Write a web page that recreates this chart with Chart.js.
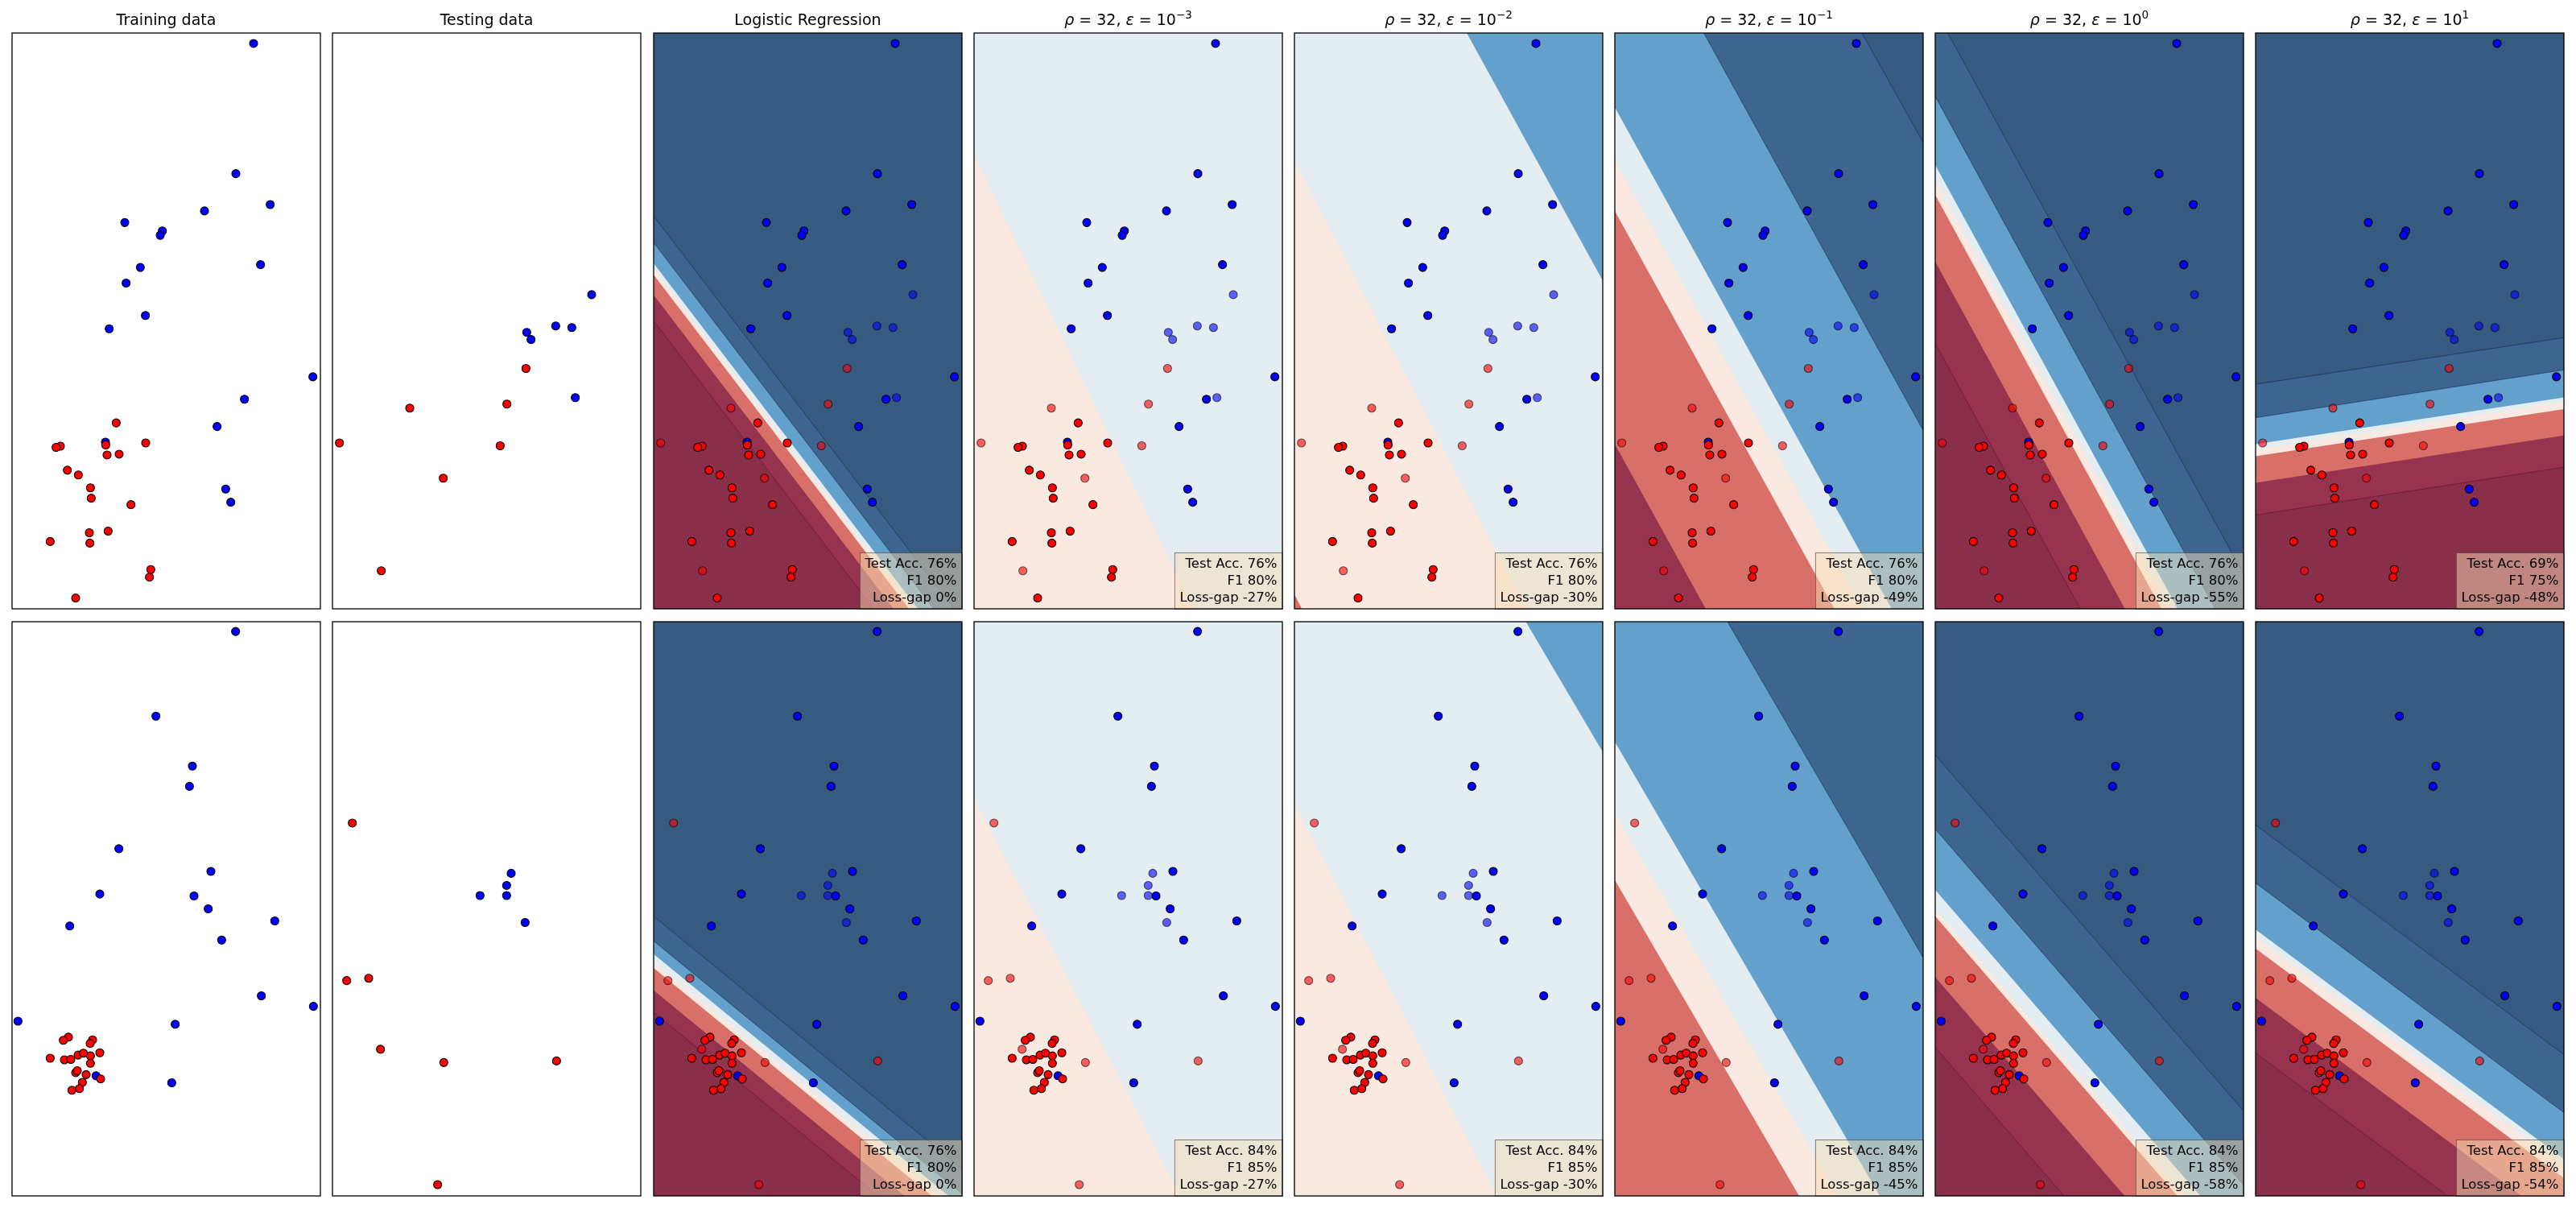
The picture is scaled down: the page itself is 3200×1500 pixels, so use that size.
<!DOCTYPE html>
<html>
<head>
<meta charset="utf-8">
<script src="https://cdn.jsdelivr.net/npm/chart.js@4.4.1/dist/chart.umd.min.js"></script>
<style>
  body { margin: 0; background: #fff; width: 3200px; height: 1500px; position: relative; overflow: hidden; }
  .panel { position: absolute; }
</style>
</head>
<body>
<script>
// column titles, the last five are rho/epsilon settings
const titles = ['Training data', 'Testing data', 'Logistic Regression'];
const epsPowers = ['\u22123', '\u22122', '\u22121', '0', '1'];

// axis limits (same units as the point readings)
const xLim = [46, 1195];
const yLim1 = [83, 1520];
const yLim2 = [65, 1537];

// row 1 points
const train1Red = [[434,1056],[544,1106],[395,1111],[226,1114],[210,1117],[400,1136],[445,1134],[252,1174],[293,1186],[338,1218],[341,1244],[489,1260],[334,1330],[404,1326],[188,1352],[336,1356],[563,1422],[558,1441],[283,1493]];
const train1Blue = [[946,109],[880,434],[1008,511],[763,527],[466,556],[606,577],[598,588],[972,661],[524,668],[471,707],[543,788],[408,821],[1167,941],[912,997],[810,1065],[394,1104],[842,1221],[861,1254]];
const test1Red = [[767,920],[696,1009],[334,1019],[72,1106],[671,1113],[459,1194],[228,1425]];
const test1Blue = [[1012,736],[878,814],[938,818],[770,830],[786,848],[951,993]];

// row 2 points
const train2Red = [[256,1130],[237,1138],[346,1137],[337,1146],[188,1184],[241,1188],[265,1187],[292,1176],[312,1171],[338,1178],[373,1170],[338,1197],[283,1221],[289,1216],[322,1226],[376,1237],[308,1246],[297,1262],[269,1266]];
const train2Blue = [[879,90],[582,307],[718,435],[707,487],[444,647],[787,705],[373,763],[724,768],[777,801],[261,845],[1025,832],[827,881],[975,1024],[1169,1051],[68,1089],[654,1097],[359,1229],[641,1247]];
const test2Red = [[120,581],[99,985],[181,979],[225,1161],[461,1195],[881,1191],[438,1508]];
const test2Blue = [[712,710],[695,741],[596,767],[695,767],[764,836]];

// contour levels, red (low) to blue (high)
const levelColors = ['rgb(138,47,74)', 'rgb(150,52,79)', 'rgb(216,112,105)', 'rgb(250,233,224)',
                     'rgb(227,237,242)', 'rgb(99,160,204)', 'rgb(61,101,144)', 'rgb(55,90,128)'];

// decision boundaries for the six classifier panels of each row:
// lowest level, then each boundary as fraction of height at left / right edge
const base1 = [0, 3, 2, 1, 0, 0];
const left1 = [
  [0.500, 0.455, 0.420, 0.410, 0.400, 0.364, 0.318],
  [0.212],
  [0.975, 0.222, -0.545],
  [0.714, 0.309, 0.221, 0.129, -0.280, -0.765],
  [0.539, 0.397, 0.281, 0.255, 0.229, 0.110, -0.040],
  [0.837, 0.781, 0.735, 0.723, 0.714, 0.668, 0.610]
];
const right1 = [
  [1.200, 1.155, 1.120, 1.110, 1.100, 1.064, 1.018],
  [1.323],
  [2.010, 1.257, 0.430],
  [1.684, 1.279, 1.191, 1.099, 0.690, 0.190],
  [1.519, 1.377, 1.261, 1.235, 1.209, 1.090, 0.940],
  [0.754, 0.699, 0.653, 0.641, 0.633, 0.585, 0.529]
];
const base2 = [0, 3, 3, 2, 0, 0];
const left2 = [
  [0.680, 0.642, 0.603, 0.592, 0.579, 0.556, 0.513],
  [0.308],
  [0.318, -0.683],
  [0.450, 0.334, 0.209, -0.337],
  [0.741, 0.619, 0.513, 0.500, 0.467, 0.361, 0.232],
  [0.751, 0.655, 0.569, 0.549, 0.536, 0.455, 0.354]
];
const right2 = [
  [1.120, 1.082, 1.043, 1.032, 1.019, 0.996, 0.953],
  [1.342],
  [1.357, 0.227],
  [1.370, 1.254, 1.129, 0.585],
  [1.361, 1.239, 1.133, 1.120, 1.087, 0.981, 0.852],
  [1.151, 1.055, 0.969, 0.949, 0.936, 0.855, 0.754]
];

// scores shown in the boxes
const acc1 = [76, 76, 76, 76, 76, 69];
const f1s1 = [80, 80, 80, 80, 80, 75];
const gap1 = [0, -27, -30, -49, -55, -48];
const acc2 = [76, 84, 84, 84, 84, 84];
const f1s2 = [80, 85, 85, 85, 85, 85];
const gap2 = [0, -27, -30, -45, -58, -54];

const rows = [
  {yLim: yLim1, trainRed: train1Red, trainBlue: train1Blue, testRed: test1Red, testBlue: test1Blue,
   base: base1, left: left1, right: right1, acc: acc1, f1: f1s1, gap: gap1, top: 41, h: 715},
  {yLim: yLim2, trainRed: train2Red, trainBlue: train2Blue, testRed: test2Red, testBlue: test2Blue,
   base: base2, left: left2, right: right2, acc: acc2, f1: f1s2, gap: gap2, top: 772, h: 713}
];

const FONT = '"DejaVu Sans", sans-serif';
const PAD = 12, PAD_TOP = 46, W = 383;

function drawTitle(ctx, segs, cx, y) {
  const fonts = {n: '19px ' + FONT, i: 'italic 19px ' + FONT, s: '13.5px ' + FONT};
  let total = 0;
  segs.forEach(s => { ctx.font = fonts[s[1]]; total += ctx.measureText(s[0]).width; });
  let x = cx - total / 2;
  ctx.fillStyle = '#000';
  ctx.textAlign = 'left';
  ctx.textBaseline = 'alphabetic';
  segs.forEach(s => {
    ctx.font = fonts[s[1]];
    ctx.fillText(s[0], x, s[1] === 's' ? y - 8 : y);
    x += ctx.measureText(s[0]).width;
  });
}

Chart.register({
  id: 'panelDeco',
  afterDatasetsDraw(chart, args, opts) {
    const ctx = chart.ctx, a = chart.chartArea;
    ctx.save();
    if (opts.stats) {
      const lines = opts.stats;
      ctx.font = '16.5px ' + FONT;
      const w = Math.max(...lines.map(l => ctx.measureText(l).width));
      const r = a.right, b = a.bottom;
      const bx = r - w - 13, by = b - 70;
      ctx.fillStyle = 'rgba(245,222,179,0.5)';
      ctx.fillRect(bx, by, r - bx, b - by);
      ctx.strokeStyle = 'rgba(0,0,0,0.45)';
      ctx.lineWidth = 1;
      ctx.strokeRect(bx + 0.5, by + 0.5, r - bx, b - by);
      ctx.fillStyle = '#000';
      ctx.textAlign = 'right';
      ctx.textBaseline = 'alphabetic';
      lines.forEach((l, i) => ctx.fillText(l, r - 6.5, b - 51 + i * 21));
    }
    ctx.strokeStyle = '#000';
    ctx.lineWidth = 1.3;
    ctx.strokeRect(a.left, a.top, a.right - a.left, a.bottom - a.top);
    if (opts.title) drawTitle(ctx, opts.title, (a.left + a.right) / 2, a.top - 10);
    ctx.restore();
  }
});

const toXY = pts => pts.map(p => ({x: p[0], y: p[1]}));

function pointSet(pts, fill, edge, order) {
  return {data: toXY(pts), showLine: false, pointRadius: 5, pointBorderWidth: 1.1,
          pointBackgroundColor: fill, pointBorderColor: edge, clip: 0, order: order};
}

function bandSets(row, k) {
  const [x0, x1] = xLim, [y0, y1] = row.yLim;
  const fy = f => y0 + f * (y1 - y0);
  const base = row.base[k];
  const sets = [{
    data: [{x: x0, y: y0}, {x: x1, y: y0}, {x: x1, y: y1}, {x: x0, y: y1}],
    showLine: true, fill: 'shape', backgroundColor: levelColors[base], borderWidth: 0,
    pointRadius: 0, clip: 0, order: 60
  }];
  row.left[k].forEach((fl, j) => {
    const lvl = base + j + 1;
    const seam = lvl >= 6 ? 'rgba(20,45,85,0.7)' : (lvl === 1 ? 'rgba(105,15,45,0.7)' : 'rgba(0,0,0,0)');
    sets.push({
      data: [{x: x0, y: fy(fl)}, {x: x1, y: fy(row.right[k][j])}, {x: x1, y: fy(-6)}, {x: x0, y: fy(-6)}],
      showLine: true, fill: 'shape', backgroundColor: levelColors[lvl],
      borderColor: seam, borderWidth: 0.9, pointRadius: 0, clip: 0, order: 59 - j
    });
  });
  return sets;
}

rows.forEach((row, r) => {
  for (let c = 0; c < 8; c++) {
    const L = Math.round(15.3 + c * 398.1);
    const div = document.createElement('div');
    div.className = 'panel';
    div.style.left = (L - PAD) + 'px';
    div.style.top = (row.top - PAD_TOP) + 'px';
    const canvas = document.createElement('canvas');
    canvas.width = W + 2 * PAD;
    canvas.height = row.h + PAD_TOP + PAD;
    div.appendChild(canvas);
    document.body.appendChild(div);

    let datasets = [], stats = null;
    if (c === 0) {
      datasets = [pointSet(row.trainBlue, '#0000ff', '#000', 2), pointSet(row.trainRed, '#ff0000', '#000', 1)];
    } else if (c === 1) {
      datasets = [pointSet(row.testBlue, '#0000ff', '#000', 2), pointSet(row.testRed, '#ff0000', '#000', 1)];
    } else {
      const k = c - 2;
      datasets = bandSets(row, k).concat([
        pointSet(row.trainBlue, '#0000ff', '#000', 4),
        pointSet(row.trainRed, '#ff0000', '#000', 3),
        pointSet(row.testBlue, 'rgba(0,0,255,0.6)', 'rgba(0,0,0,0.6)', 2),
        pointSet(row.testRed, 'rgba(255,0,0,0.6)', 'rgba(0,0,0,0.6)', 1)
      ]);
      stats = ['Test Acc. ' + row.acc[k] + '%', 'F1 ' + row.f1[k] + '%', 'Loss-gap ' + row.gap[k] + '%'];
    }

    let title = null;
    if (r === 0) {
      title = c < 3 ? [[titles[c], 'n']]
                    : [['\u03c1', 'i'], [' = 32, ', 'n'], ['\u03b5', 'i'], [' = 10', 'n'], [epsPowers[c - 3], 's']];
    }

    new Chart(canvas, {
      type: 'scatter',
      data: {datasets: datasets},
      options: {
        responsive: false,
        animation: false,
        events: [],
        layout: {padding: {left: PAD, right: PAD, top: PAD_TOP, bottom: PAD}},
        scales: {
          x: {type: 'linear', min: xLim[0], max: xLim[1], display: false},
          y: {type: 'linear', min: row.yLim[0], max: row.yLim[1], reverse: true, display: false}
        },
        plugins: {
          legend: {display: false},
          tooltip: {enabled: false},
          panelDeco: {title: title, stats: stats}
        }
      }
    });
  }
});
</script>
</body>
</html>
